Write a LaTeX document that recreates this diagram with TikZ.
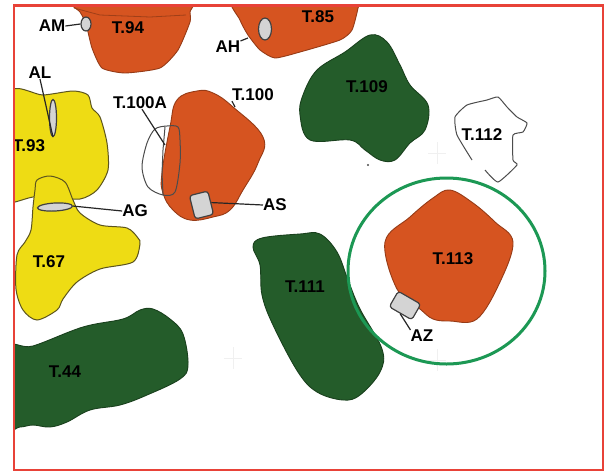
\documentclass[tikz,border=0pt]{standalone}
\usepackage{fontspec}
\setsansfont{Liberation Sans}
\usetikzlibrary{shapes.geometric, positioning, calc}
\definecolor{toothorange}{RGB}{214,84,32}
\definecolor{toothgreen}{RGB}{36,92,42}
\definecolor{toothyellow}{RGB}{238,220,20}
\definecolor{ringgreen}{RGB}{28,152,84}
\definecolor{framered}{RGB}{232,66,56}
\definecolor{edgeolive}{RGB}{92,84,30}
\definecolor{markergray}{RGB}{212,212,212}

\begin{document}
\begin{tikzpicture}[
        x=1pt, y=-1pt,
        font=\sffamily\bfseries\fontsize{17}{19}\selectfont,
        tooth/.style={draw=#1!70!black, line width=0.9pt, fill=#1},
        toothedge/.style={draw=edgeolive, line width=1pt, fill=toothyellow},
        outline/.style={draw=black!70, line width=1pt},
        leader/.style={draw=black!85, line width=1.2pt},
        marker/.style={draw=black!75, line width=1.2pt, fill=markergray, ellipse, inner sep=0pt},
        cavity/.style={draw=black!75, line width=1.2pt, fill=markergray, rectangle, rounded corners=3pt, inner sep=0pt},
        label/.style={inner sep=0pt, text=black}
    ]
    \useasboundingbox (0,0) rectangle (605,472);
    \fill[white] (0,0) rectangle (605,472);

    % --- Marcas de registro ---
    \foreach \px/\py in {233/358, 437/153, 437/360}
        \draw[black!6, line width=1pt] (\px-9,\py) -- (\px+9,\py) (\px,\py-11) -- (\px,\py+11);
    \fill[black!70] (368,165) circle (1.2pt);

    \begin{scope}
        \clip (14,6) rectangle (603,470);

        % --- Dientes amarillos ---
        \draw[toothedge] plot[smooth cycle, tension=0.45] coordinates {
            (8,94) (43,95) (73,91) (88,95) (92,108) (100,117) (107,143) (108,170)
            (97,190) (80,199) (50,197) (33,197) (15,202) (8,202)};
        \draw[toothedge] plot[smooth cycle, tension=0.5] coordinates {
            (35,190) (37,180) (50,176) (65,182) (73,200) (80,213) (100,225) (127,228)
            (138,238) (140,244) (133,262) (100,269) (77,282) (63,299) (57,310) (37,320)
            (23,310) (16,289) (17,255) (25,242) (31,230) (33,207)};

        % --- Dientes naranjas ---
        \draw[tooth=toothorange] plot[smooth cycle, tension=0.35] coordinates {
            (68,-4) (80,12) (86,24) (92,48) (102,68) (125,73) (160,68) (178,50)
            (190,22) (190,12) (190,-4)};
        \draw[toothorange!75!black, line width=0.8pt] (74,8) -- (100,15) -- (150,17) -- (186,15);
        \draw[tooth=toothorange] plot[smooth cycle, tension=0.35] coordinates {
            (234,-4) (240,20) (248,35) (260,50) (275,58) (300,52) (340,40) (352,30) (358,8) (358,-4)};
        \draw[tooth=toothorange] plot[smooth cycle, tension=0.7] coordinates {
            (197,91) (213,93) (233,107) (263,137) (258,163) (243,190) (230,210)
            (213,217) (190,220) (173,210) (163,193) (162,173) (170,127) (177,100)};
        \draw[tooth=toothorange] plot[smooth cycle, tension=0.6] coordinates {
            (450,190) (473,203) (495,222) (513,242) (500,282) (477,319) (450,321) (433,319)
            (420,309) (397,289) (385,242) (410,217) (433,198)};

        % --- Dientes verdes ---
        \draw[tooth=toothgreen] plot[smooth cycle, tension=0.6] coordinates {
            (317,70) (345,52) (370,35) (387,42) (400,65) (410,85) (428,105) (425,130)
            (410,143) (395,160) (380,160) (365,150) (350,140) (310,140) (300,115) (303,95)};
        \draw[tooth=toothgreen] plot[smooth cycle, tension=0.6] coordinates {
            (253,247) (262,238) (300,234) (320,234) (337,252) (348,280) (360,309) (382,349)
            (380,372) (360,395) (343,400) (317,392) (298,372) (273,325) (262,295) (260,265)};
        \draw[tooth=toothgreen] plot[smooth cycle, tension=0.6] coordinates {
            (6,350) (33,346) (83,327) (123,319) (140,310) (153,309) (170,319)
            (183,334) (188,365) (180,379) (147,395) (120,405) (90,410) (67,422) (50,427)
            (33,425) (20,427) (6,425)};

        % --- Contornos sin relleno ---
        \draw[outline] plot[smooth cycle, tension=0.5] coordinates {
            (167,126) (155,129) (147,143) (142,167) (148,187) (163,195) (175,192) (180,163)
            (180,140) (178,127)};
        \draw[outline] (165,127) -- (163,150) -- (162,173) -- (163,195);
        \draw[outline] plot[smooth, tension=0.3] coordinates {
            (472,160) (457,135) (455,117) (467,105) (487,100) (498,97) (507,107) (517,117)
            (527,123) (523,132) (513,135) (513,160) (517,165) (498,182) (485,170)};

        % --- Texto cortado por el marco ---
        \node[label] (t93) at (29,146) {T.93};
    \end{scope}

    % --- Aro y marco ---
    \node[draw=ringgreen, line width=3pt, ellipse, minimum width=197pt, minimum height=186pt, inner sep=0pt] (ring) at (446.5,271) {};
    \draw[framered, line width=2.4pt] (14,5.5) rectangle (603,470);

    % --- Cavidades ---
    \node[marker, minimum width=10pt, minimum height=14pt] (markAM) at (86,24) {};
    \node[marker, minimum width=13pt, minimum height=22pt] (markAH) at (265,29) {};
    \node[marker, minimum width=7pt, minimum height=37pt] (markAL) at (53,118) {};
    \node[marker, minimum width=35pt, minimum height=8pt, rotate=3] (markAG) at (55,207) {};
    \node[cavity, minimum width=19pt, minimum height=24pt, rotate=14] (markAS) at (201.5,205) {};
    \node[cavity, minimum width=26pt, minimum height=18pt, rotate=-30] (markAZ) at (405,305.5) {};

    % --- Etiquetas ---
    \node[label] (t94) at (128,28) {T.94};
    \node[label] (t85) at (318,17) {T.85};
    \node[label] (t109) at (367,87) {T.109};
    \node[label] (t112) at (482,135) {T.112};
    \node[label] (t67) at (49,262) {T.67};
    \node[label] (t44) at (65,372) {T.44};
    \node[label] (t111) at (305,287) {T.111};
    \node[label] (t113) at (453,259) {T.113};
    \node[label] (t100a) at (140,103) {T.100A};
    \node[label] (t100) at (253,95) {T.100};

    \node[label] (lblAM) at (52,26) {AM};
    \node[label] (lblAH) at (228,47) {AH};
    \node[label] (lblAL) at (40,73) {AL};
    \node[label] (lblAG) at (135,211) {AG};
    \node[label] (lblAS) at (275,205) {AS};
    \node[label] (lblAZ) at (422,336) {AZ};

    % --- Lineas de referencia ---
    \coordinate (endT100) at (235,107);
    \coordinate (endT100A) at (165,145);
    \draw[leader] (lblAM.east) -- (markAM.west);
    \draw[leader] (lblAH.north east) -- (248,38);
    \draw[leader] (lblAL.south) -- (markAL.south);
    \draw[leader] (lblAG.west) -- (markAG.east);
    \draw[leader] (lblAS.west) -- (markAS.east);
    \draw[leader] (lblAZ.north west) -- (markAZ.south);
    \draw[leader] (t100.south west) -- (endT100);
    \draw[leader] (t100a.south) ++(2,0) -- (endT100A);
\end{tikzpicture}
\end{document}
